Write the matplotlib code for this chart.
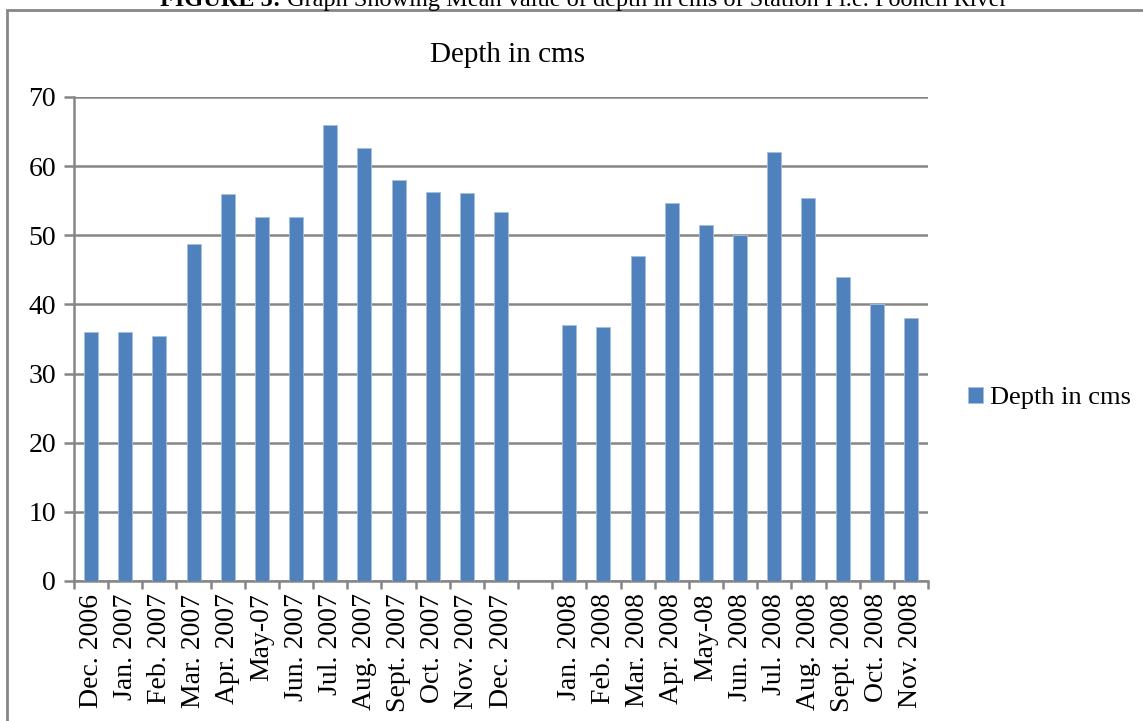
import matplotlib
matplotlib.use("Agg")
from matplotlib import pyplot as plt
from matplotlib.patches import Rectangle

plt.rcParams["font.family"] = ["Liberation Serif", "DejaVu Serif"]

months = ["Dec. 2006", "Jan. 2007", "Feb. 2007", "Mar. 2007", "Apr. 2007",
          "May-07", "Jun. 2007", "Jul. 2007", "Aug. 2007", "Sept. 2007",
          "Oct. 2007", "Nov. 2007", "Dec. 2007", "",
          "Jan. 2008", "Feb. 2008", "Mar. 2008", "Apr. 2008", "May-08",
          "Jun. 2008", "Jul. 2008", "Aug. 2008", "Sept. 2008", "Oct. 2008",
          "Nov. 2008"]
depth = [36.0, 36.0, 35.4, 48.7, 56.0, 52.6, 52.6, 65.9, 62.6, 58.0,
         56.2, 56.1, 53.4, None,
         37.0, 36.8, 47.0, 54.7, 51.5, 50.0, 62.0, 55.4, 43.9, 40.0, 38.0]
yticks = [0, 10, 20, 30, 40, 50, 60, 70]

bar_color = "#4F81BD"
grid_color = "#868686"

fig = plt.figure(figsize=(11.43, 7.21), dpi=100)

# outer chart frame
fig.patches.append(Rectangle((7 / 1143, -0.05), 1.2, 1 - 10 / 721 + 0.05,
                             transform=fig.transFigure, fill=False,
                             edgecolor=grid_color, linewidth=2.0))

# caption, cut off by the top edge as in the source page
cap = fig.text(160 / 1143, 1 - 6 / 721, "FIGURE 5:", ha="left", va="baseline",
               fontsize=17.5, fontweight="bold")
fig.canvas.draw()
cap_box = cap.get_window_extent()
fig.text(cap_box.x1 / 1143, 1 - 6 / 721,
         " Graph Showing Mean value of depth in cms of Station I i.e. Poonch River",
         ha="left", va="baseline", fontsize=17.5)

ax = fig.add_axes([74 / 1143, 1 - 581 / 721, (928 - 74) / 1143, (581 - 97) / 721])

xs = [i for i, v in enumerate(depth) if v is not None]
vals = [v for v in depth if v is not None]
ax.bar(xs, vals, width=0.41, color=bar_color, edgecolor="#A7C0DE",
       linewidth=0.6, label="Depth in cms", zorder=3)

ax.set_xlim(-0.5, len(months) - 0.5)
ax.set_ylim(0, 70)
ax.set_yticks(yticks)
ax.set_yticklabels([str(t) for t in yticks], fontsize=20)
ax.yaxis.grid(True, color=grid_color, linewidth=1.8, zorder=0)

ax.set_xticks(range(len(months)))
ax.set_xticklabels(months, rotation=90, fontsize=20)
ax.set_xticks([i - 0.5 for i in range(len(months) + 1)], minor=True)
ax.tick_params(axis="x", which="major", length=0, pad=9)
ax.tick_params(axis="x", which="minor", length=6, width=1.8, color=grid_color)
ax.tick_params(axis="y", length=7, width=1.8, color=grid_color, pad=6)

for side in ["top", "right"]:
    ax.spines[side].set_visible(False)
for side in ["left", "bottom"]:
    ax.spines[side].set_color(grid_color)
    ax.spines[side].set_linewidth(1.8)

fig.text(508 / 1143, 1 - 55 / 721, "Depth in cms", ha="center", va="center", fontsize=21)

ax.legend(loc="center left", bbox_to_anchor=(968 / 1143, 1 - 398 / 721),
          bbox_transform=fig.transFigure, frameon=False, fontsize=19,
          handlelength=0.55, handleheight=0.55, handletextpad=0.3,
          borderpad=0, borderaxespad=0)

fig.savefig("out.png", dpi=100)
